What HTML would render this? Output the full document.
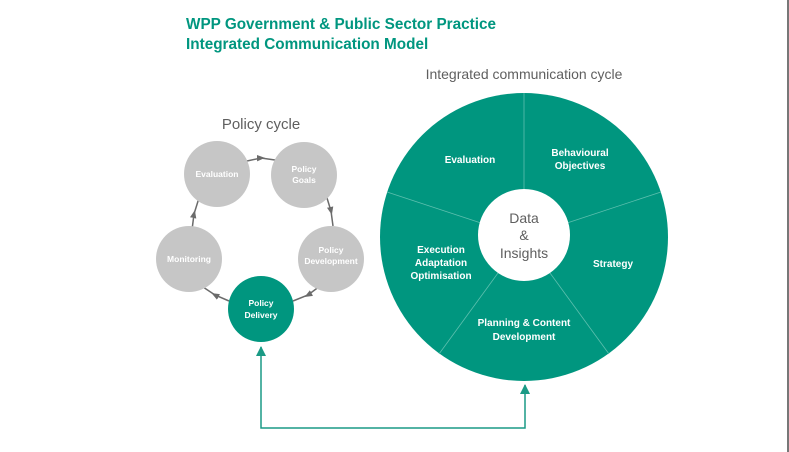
<!DOCTYPE html>
<html><head><meta charset="utf-8"><style>
html,body{margin:0;padding:0;background:#fff;}
svg{display:block;font-family:"Liberation Sans",sans-serif;}
</style></head><body>
<svg width="789" height="452" viewBox="0 0 789 452" xmlns="http://www.w3.org/2000/svg">
<defs>
<marker id="ga" viewBox="0 0 10 10" refX="5" refY="5" markerUnits="userSpaceOnUse" markerWidth="8" markerHeight="8" orient="auto"><path d="M0,1 L10,5 L0,9 z" fill="#6b6b6b"/></marker>
</defs>
<rect x="787" y="0" width="2" height="452" fill="#777"/>
<text x="186" y="29" font-size="15.3" font-weight="bold" fill="#00967f">WPP Government &amp; Public Sector Practice</text>
<text x="186" y="49" font-size="15.3" font-weight="bold" fill="#00967f">Integrated Communication Model</text>
<text x="524" y="79" font-size="14" fill="#5f5f5f" text-anchor="middle">Integrated communication cycle</text>
<text x="261" y="129" font-size="15" fill="#5f5f5f" text-anchor="middle">Policy cycle</text>

<g stroke="#6b6b6b" stroke-width="1.5" fill="none">
<polyline points="247,161 261,158 275,160" marker-mid="url(#ga)"/>
<polyline points="327,198 331,211 333,226" marker-mid="url(#ga)"/>
<polyline points="320,286 308,295 293,301" marker-mid="url(#ga)"/>
<polyline points="229,301 215,295 203,287" marker-mid="url(#ga)"/>
<polyline points="192,230 194,214 199,198" marker-mid="url(#ga)"/>
</g>

<g fill="#c6c6c6">
<circle cx="217" cy="174" r="33"/>
<circle cx="304" cy="175" r="33"/>
<circle cx="331" cy="259" r="33"/>
<circle cx="189" cy="259" r="33"/>
</g>
<circle cx="261" cy="309" r="33" fill="#00967f"/>
<g font-size="8.5" font-weight="bold" fill="#fff" text-anchor="middle">
<text x="217" y="177">Evaluation</text>
<text x="304" y="172">Policy</text><text x="304" y="183">Goals</text>
<text x="331" y="253">Policy</text><text x="331" y="264">Development</text>
<text x="189" y="262">Monitoring</text>
<text x="261" y="306">Policy</text><text x="261" y="318">Delivery</text>
</g>

<circle cx="524" cy="237" r="144" fill="#00967f"/>
<g stroke="#5dbfae" stroke-width="0.8">
<line x1="524" y1="192" x2="524" y2="93"/>
<line x1="567" y1="223" x2="661" y2="192"/>
<line x1="550" y1="273" x2="609" y2="354"/>
<line x1="498" y1="273" x2="439" y2="354"/>
<line x1="481" y1="223" x2="387" y2="192"/>
</g>
<circle cx="524" cy="235" r="46" fill="#fff"/>
<g font-size="14" fill="#5f5f5f" text-anchor="middle">
<text x="524" y="223">Data</text>
<text x="524" y="240">&amp;</text>
<text x="524" y="258">Insights</text>
</g>
<g font-size="10" font-weight="bold" fill="#fff" text-anchor="middle">
<text x="470" y="163">Evaluation</text>
<text x="580" y="156">Behavioural</text><text x="580" y="169">Objectives</text>
<text x="613" y="267">Strategy</text>
<text x="441" y="253">Execution</text><text x="441" y="266">Adaptation</text><text x="441" y="279">Optimisation</text>
<text x="524" y="326">Planning &amp; Content</text><text x="524" y="340">Development</text>
</g>

<polyline points="261,347 261,428 525,428 525,385" fill="none" stroke="#1a9a85" stroke-width="1.5"/>
<path d="M261,346 L256,356 L266,356 z" fill="#1a9a85"/>
<path d="M525,384 L520,394 L530,394 z" fill="#1a9a85"/>
</svg>
</body></html>
